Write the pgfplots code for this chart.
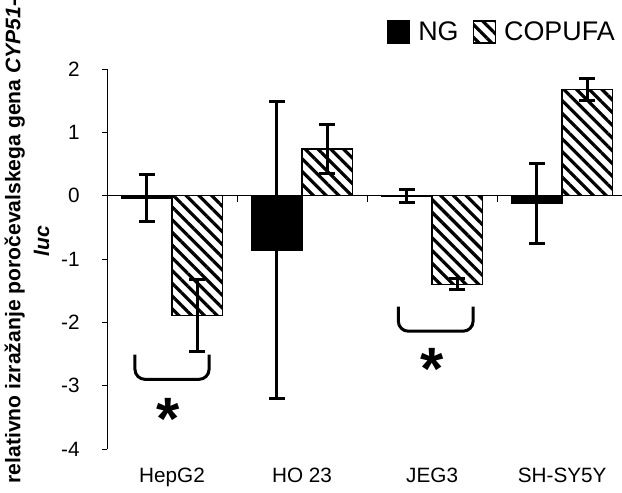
\documentclass[border=0pt]{standalone}
\usepackage{fontspec}
\setmainfont{Liberation Sans}
\usepackage{pgfplots}
\pgfplotsset{compat=1.18}
\usetikzlibrary{patterns.meta}

\pgfplotsset{
  sqlegend/.style={legend image code/.code={\draw[##1,line width=0.75bp] (0bp,-5.5bp) rectangle (11bp,5.5bp);}},
}

\begin{document}
\begin{tikzpicture}
\path[use as bounding box] (-53.5bp,-22bp) rectangle (257.5bp,224.5bp);
\begin{axis}[at={(0,0)},anchor=south west,scale only axis,
  width=257.5bp,height=190bp,
  xmin=-0.5,xmax=3.46,ymin=-4,ymax=2,
  ybar=0pt,bar width=25.25bp,
  axis y line*=left,axis x line*=bottom,
  x axis line style={draw=none},
  y axis line style={line width=0.5bp},
  xtick={0,1,2,3},xticklabels={HepG2,HO 23,JEG3,SH-SY5Y},
  x tick style={draw=none},
  xticklabel style={anchor=base,yshift=-14bp},
  ytick={-4,-3,-2,-1,0,1,2},yticklabels={-4,-3,-2,-1,0,1,2},
  yticklabel style={anchor=east,inner sep=0pt,xshift=-11bp},
  y tick style={black,line width=0.5bp},
  tick align=outside,major tick length=2.5bp,
  tick label style={font=\fontsize{10.4}{12}\selectfont},
  legend style={draw=none,fill=none,legend columns=2,at={(1.006,1.097)},anchor=east,
    font=\fontsize{13.5}{16}\selectfont,
    /tikz/every odd column/.append style={column sep=2bp},
    /tikz/every even column/.append style={column sep=5bp}},
  clip=false]

% zero line and category separators
\draw[line width=0.5bp] (axis cs:-0.5,0) -- (axis cs:3.46,0);
\draw[line width=0.5bp] (axis cs:0.5,0) -- ([yshift=-3bp]axis cs:0.5,0);
\draw[line width=0.5bp] (axis cs:1.5,0) -- ([yshift=-3bp]axis cs:1.5,0);
\draw[line width=0.5bp] (axis cs:2.5,0) -- ([yshift=-3bp]axis cs:2.5,0);

\addplot+[sqlegend,fill=black,draw=black,line width=0.75bp,
  error bars/.cd,y dir=both,y explicit,
  error bar style={line width=1.5bp,black},
  error mark options={rotate=90,mark size=4bp,line width=1.5bp,black}]
  coordinates {(0,-0.04) +- (0,0.37) (1,-0.86) +- (0,2.34) (2,-0.005) +- (0,0.097) (3,-0.12) +- (0,0.635)};
\addlegendentry{NG}
\addplot+[sqlegend,fill=white,draw=black,line width=0.75bp,
  pattern={Lines[angle=-45,distance=4.5bp,line width=1.6bp]},pattern color=black,
  error bars/.cd,y dir=both,y explicit,
  error bar style={line width=1.5bp,black},
  error mark options={rotate=90,mark size=4bp,line width=1.5bp,black}]
  coordinates {(0,-1.895) +- (0,0.565) (1,0.74) +- (0,0.39) (2,-1.40) +- (0,0.085) (3,1.68) +- (0,0.17)};
\addlegendentry{COPUFA}

% significance brackets
\draw[line width=1.5bp,rounded corners=5bp] (axis cs:-0.285,-2.51) -- (axis cs:-0.285,-2.90) -- (axis cs:0.285,-2.90) -- (axis cs:0.285,-2.51);
\draw[line width=1.5bp,rounded corners=5bp] (axis cs:1.74,-1.75) -- (axis cs:1.74,-2.14) -- (axis cs:2.315,-2.14) -- (axis cs:2.315,-1.75);
\node[anchor=base,inner sep=0pt,yshift=-13.8bp,font=\bfseries\fontsize{30}{30}\selectfont] at (axis cs:-0.03,-3.41) {*};
\node[anchor=base,inner sep=0pt,yshift=-13.8bp,font=\bfseries\fontsize{30}{30}\selectfont] at (axis cs:2.0,-2.62) {*};
\end{axis}
\node[rotate=90,align=center,font=\bfseries\fontsize{10.6}{14.5}\selectfont] at (-40bp,103.75bp)
  {relativno izražanje poročevalskega gena \textit{CYP51-}\\\textit{luc}};
\end{tikzpicture}
\end{document}
